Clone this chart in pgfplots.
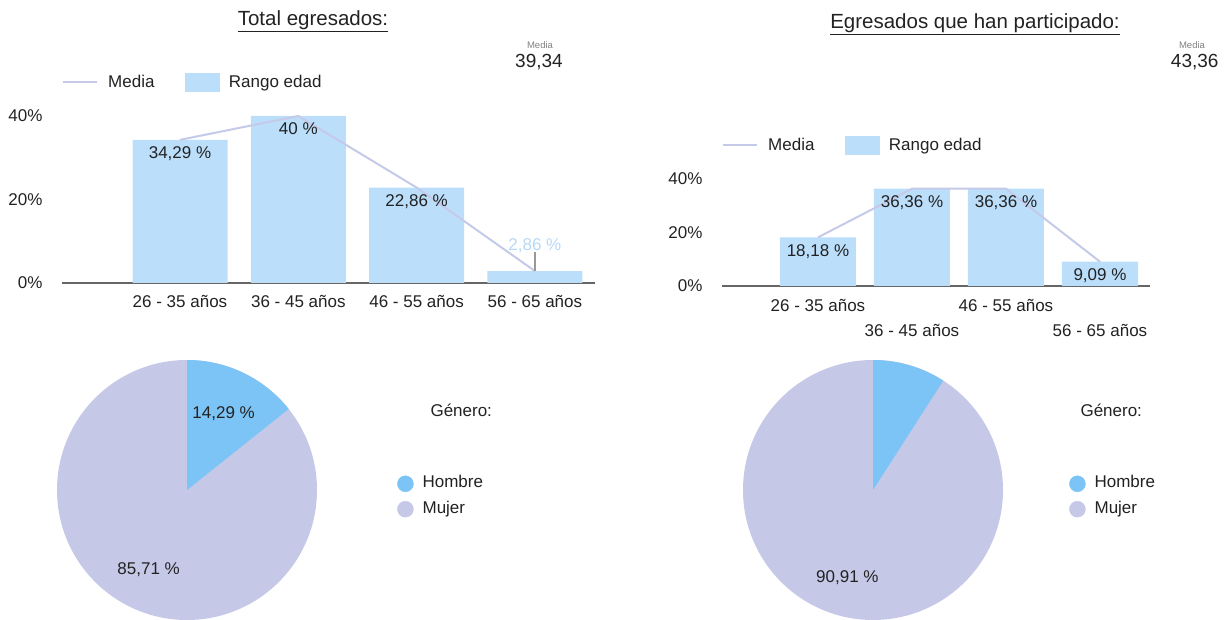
\documentclass[border=0pt]{standalone}
\usepackage{fontspec}
\setmainfont{Liberation Sans}
\usepackage{pgfplots}
\pgfplotsset{compat=1.18}

\definecolor{barcol}{HTML}{BBDEFB}
\definecolor{mediacol}{HTML}{C5CAE9}
\definecolor{hombrecol}{HTML}{7CC4F5}
\definecolor{mujercol}{HTML}{C5C8E7}
\definecolor{txt}{HTML}{222222}
\definecolor{basecol}{HTML}{666666}
\definecolor{leadcol}{HTML}{999999}
\definecolor{outlab}{HTML}{B5D8F8}

\newcommand\fs{\fontsize{17bp}{20bp}\selectfont}

\pgfplotsset{
  edad/.style={
    scale only axis, clip=false,
    axis x line=bottom, axis y line=left,
    x axis line style={-, draw=basecol, line width=1.5bp},
    y axis line style={draw=none},
    major tick length=0pt,
    ymin=0, ymax=40,
    ytick={0,20,40}, yticklabels={0\%,20\%,40\%},
    tick label style={font=\fs, text=txt},
    yticklabel style={xshift=-16bp},
    legend columns=2,
    legend style={draw=none, fill=none, inner sep=0pt, anchor=west, font=\fs, text=txt,
      nodes={inner sep=0pt},
      /tikz/every odd column/.append style={column sep=10bp},
      /tikz/every even column/.append style={column sep=30bp}},
  },
  linea/.style={legend image code/.code={\draw[mediacol, line width=2bp] (0bp,0bp) -- (34bp,0bp);}},
  caja/.style={legend image code/.code={\fill[barcol] (0bp,-9bp) rectangle (34bp,9bp);}},
  barras/.style={forget plot, ybar, bar shift=0pt, fill=barcol, draw=none},
  media/.style={forget plot, mediacol, line width=2bp, mark=none},
  etiq/.style={forget plot, draw=none, mark=none, nodes near coords, point meta=explicit symbolic,
    every node near coord/.append style={anchor=north, yshift=-3.5bp, font=\fs, text=txt}},
  pastel/.style={scale only axis, width=260bp, height=260bp, xmin=-1, xmax=1, ymin=-1, ymax=1,
    hide axis, clip=false, legend cell align=left,
    legend style={draw=none, fill=none, inner sep=0pt, anchor=west, font=\fs, text=txt,
      nodes={inner sep=0pt, text height=12bp, text depth=4bp}, row sep=9bp,
      /tikz/every odd column/.append style={column sep=9bp}}},
  hombre/.style={legend image code/.code={\fill[hombrecol] (8bp,0bp) circle[radius=8bp];}},
  mujer/.style={legend image code/.code={\fill[mujercol] (8bp,0bp) circle[radius=8bp];}},
}

\begin{document}
\begin{tikzpicture}
\path (0bp,0bp) rectangle (1227bp,620bp);

% ---- Total egresados: rango de edad
\node[font=\fontsize{20.5bp}{24bp}\selectfont, text=txt] at (313bp,599bp) {\underline{Total egresados:}};
\node[font=\fontsize{9.5bp}{11bp}\selectfont, text=gray] at (540bp,575bp) {Media};
\node[font=\fontsize{19bp}{22bp}\selectfont, text=txt] at (539bp,558bp) {39,34};

\begin{axis}[edad, at={(62bp,337bp)}, anchor=south west, width=533bp, height=167bp,
  xmin=-0.9975, xmax=3.508,
  xtick={0,1,2,3}, xticklabels={26 - 35 años, 36 - 45 años, 46 - 55 años, 56 - 65 años},
  xticklabel style={yshift=-9bp},
  legend style={at={(0,1.2036)}}]
\addlegendimage{linea}\addlegendentry{Media}
\addlegendimage{caja}\addlegendentry{Rango edad}
\addplot[barras, bar width=95bp] coordinates {(0,34.29) (1,40) (2,22.86) (3,2.86)};
\addplot[media] coordinates {(0,34.29) (1,40) (2,22.86) (3,2.86)};
\addplot[forget plot, leadcol, line width=1.5bp] coordinates {(3,2.86) (3,7.4)};
\addplot[etiq] coordinates {(0,34.29)[34,29 \%] (1,40)[40 \%] (2,22.86)[22,86 \%]};
\addplot[etiq, every node near coord/.append style={anchor=base, yshift=24.5bp, text=outlab}]
  coordinates {(3,2.86)[2,86 \%]};
\end{axis}

% ---- Egresados que han participado: rango de edad
\node[font=\fontsize{20.5bp}{24bp}\selectfont, text=txt] at (975bp,596bp) {\underline{Egresados que han participado:}};
\node[font=\fontsize{9.5bp}{11bp}\selectfont, text=gray] at (1192bp,575bp) {Media};
\node[font=\fontsize{19bp}{22bp}\selectfont, text=txt, anchor=east] at (1222bp,558bp) {43,36};

\begin{axis}[edad, at={(722bp,334bp)}, anchor=south west, width=428bp, height=107bp,
  xmin=-1.021, xmax=3.532,
  xtick={0,2}, xticklabels={26 - 35 años, 46 - 55 años},
  extra x ticks={1,3}, extra x tick labels={36 - 45 años, 56 - 65 años},
  xticklabel style={yshift=-10bp},
  extra x tick style={xticklabel style={yshift=-25bp}},
  legend style={at={(0,1.318)}}]
\addlegendimage{linea}\addlegendentry{Media}
\addlegendimage{caja}\addlegendentry{Rango edad}
\addplot[barras, bar width=76bp] coordinates {(0,18.18) (1,36.36) (2,36.36) (3,9.09)};
\addplot[media] coordinates {(0,18.18) (1,36.36) (2,36.36) (3,9.09)};
\addplot[etiq] coordinates {(0,18.18)[18,18 \%] (1,36.36)[36,36 \%] (2,36.36)[36,36 \%] (3,9.09)[9,09 \%]};
\end{axis}

% ---- Genero: total egresados (Hombre 14,29 %, Mujer 85,71 %)
\def\hombreA{14.29}
\begin{axis}[pastel, at={(57bp,0bp)}, anchor=south west, legend style={at={(1.3077,0.475)}}]
\addlegendimage{hombre}\addlegendentry{Hombre}
\addlegendimage{mujer}\addlegendentry{Mujer}
\fill[mujercol] (axis cs:0,0) circle[radius=130bp];
\fill[hombrecol] (axis cs:0,0) -- (axis cs:0,1) arc[start angle=90, delta angle={-3.6*\hombreA}, radius=130bp] -- cycle;
\node[font=\fs, text=txt] at (axis cs:{0.65*cos(90-1.8*\hombreA)},{0.65*sin(90-1.8*\hombreA)}) {14,29 \%};
\node[font=\fs, text=txt] at (axis cs:{0.68*cos(-90-1.8*\hombreA)},{0.68*sin(-90-1.8*\hombreA)}) {85,71 \%};
\end{axis}
\node[font=\fs, text=txt, anchor=west] at (427bp,210bp) {Género:};

% ---- Genero: egresados que han participado (Hombre 9,09 %, Mujer 90,91 %)
\def\hombreB{9.09}
\begin{axis}[pastel, at={(743bp,0bp)}, anchor=south west, legend style={at={(1.2538,0.475)}}]
\addlegendimage{hombre}\addlegendentry{Hombre}
\addlegendimage{mujer}\addlegendentry{Mujer}
\fill[mujercol] (axis cs:0,0) circle[radius=130bp];
\fill[hombrecol] (axis cs:0,0) -- (axis cs:0,1) arc[start angle=90, delta angle={-3.6*\hombreB}, radius=130bp] -- cycle;
\node[font=\fs, text=txt] at (axis cs:{0.7*cos(-90-1.8*\hombreB)},{0.7*sin(-90-1.8*\hombreB)}) {90,91 \%};
\end{axis}
\node[font=\fs, text=txt, anchor=west] at (1077bp,210bp) {Género:};
\end{tikzpicture}
\end{document}
